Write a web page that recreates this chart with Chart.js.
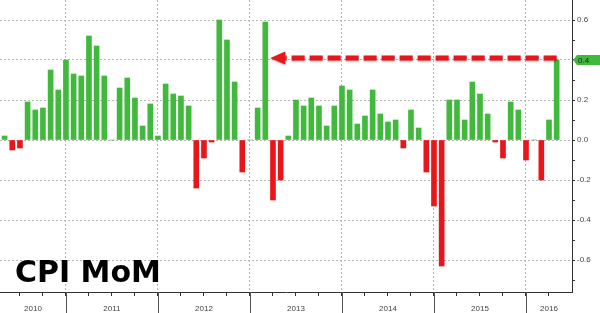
<!DOCTYPE html>
<html>
<head>
<meta charset="utf-8">
<script src="https://cdn.jsdelivr.net/npm/chart.js@4"></script>
<style>
  html, body { margin: 0; padding: 0; background: #fff; }
  #wrap { width: 600px; height: 313px; position: relative; }
</style>
</head>
<body>
<div id="wrap"><canvas id="cpi_mom"></canvas></div>
<script>
// US CPI, month on month %, Apr 2010 - Apr 2016
const months = [
  'Apr 10','May 10','Jun 10','Jul 10','Aug 10','Sep 10','Oct 10','Nov 10','Dec 10',
  'Jan 11','Feb 11','Mar 11','Apr 11','May 11','Jun 11','Jul 11','Aug 11','Sep 11','Oct 11','Nov 11','Dec 11',
  'Jan 12','Feb 12','Mar 12','Apr 12','May 12','Jun 12','Jul 12','Aug 12','Sep 12','Oct 12','Nov 12','Dec 12',
  'Jan 13','Feb 13','Mar 13','Apr 13','May 13','Jun 13','Jul 13','Aug 13','Sep 13','Oct 13','Nov 13','Dec 13',
  'Jan 14','Feb 14','Mar 14','Apr 14','May 14','Jun 14','Jul 14','Aug 14','Sep 14','Oct 14','Nov 14','Dec 14',
  'Jan 15','Feb 15','Mar 15','Apr 15','May 15','Jun 15','Jul 15','Aug 15','Sep 15','Oct 15','Nov 15','Dec 15',
  'Jan 16','Feb 16','Mar 16','Apr 16'
];
const cpiMoM = [
  0.02, -0.05, -0.04, 0.19, 0.15, 0.16, 0.35, 0.25, 0.40,
  0.33, 0.32, 0.52, 0.47, 0.32, 0.00, 0.26, 0.31, 0.21, 0.07, 0.18, 0.02,
  0.28, 0.23, 0.22, 0.17, -0.24, -0.09, -0.01, 0.60, 0.50, 0.29, -0.16, 0.00,
  0.16, 0.59, -0.30, -0.20, 0.02, 0.20, 0.17, 0.21, 0.17, 0.07, 0.17, 0.27,
  0.25, 0.08, 0.12, 0.25, 0.13, 0.09, 0.10, -0.04, 0.15, 0.06, -0.16, -0.33,
  -0.63, 0.20, 0.20, 0.10, 0.29, 0.23, 0.13, -0.01, -0.09, 0.19, 0.15, -0.10,
  0.00, -0.20, 0.10, 0.40
];
const yearLabels = ['2010', '2011', '2012', '2013', '2014', '2015', '2016'];
const yMajorTicks = [-0.6, -0.4, -0.2, 0, 0.2, 0.4, 0.6];
const yMinorTicks = [-0.7, -0.5, -0.3, -0.1, 0.1, 0.3, 0.5];
const chartTitle = 'CPI MoM';
const arrowFrom = 'Apr 16';   // latest print
const arrowTo = 'Feb 13';     // last time it was this high

const GREEN = '#40b93c';
const RED = '#e8161a';
const GRID = '#b4b4b4';
const AXIS = '#333';
const xMin = -0.6, xMax = 74;

// year ends (Dec) are the year separators, quarter ends get a tick
const yearEnds = months.map((m, i) => m.startsWith('Dec') ? i : -1).filter(i => i >= 0);
const quarterEnds = months.map((m, i) => /^(Mar|Jun|Sep|Dec)/.test(m) ? i : -1).filter(i => i >= 0);
const edges = [xMin, ...yearEnds, xMax];
const yearMids = edges.slice(1).map((e, i) => (e + edges[i]) / 2);

const labelFont = { family: '"Liberation Sans", Arial, sans-serif', size: 8 };

const overlay = {
  id: 'overlay',
  afterDraw(chart) {
    const ctx = chart.ctx;
    const xs = chart.scales.x, ys = chart.scales.y;
    const area = chart.chartArea;

    // year separators under the axis
    ctx.save();
    ctx.strokeStyle = '#555';
    ctx.lineWidth = 1;
    yearEnds.forEach(i => {
      const px = Math.round(xs.getPixelForValue(i)) + 0.5;
      ctx.beginPath();
      ctx.moveTo(px, area.bottom);
      ctx.lineTo(px, chart.height);
      ctx.stroke();
    });
    ctx.restore();

    // dashed arrow back to the last comparable print
    const iFrom = months.indexOf(arrowFrom), iTo = months.indexOf(arrowTo);
    const ay = ys.getPixelForValue(cpiMoM[iFrom]) - 2;
    const tip = xs.getPixelForValue(iTo) + 5;
    const start = xs.getPixelForValue(iFrom);
    ctx.save();
    ctx.shadowColor = 'rgba(0,0,0,0.35)';
    ctx.shadowBlur = 2;
    ctx.shadowOffsetY = 1;
    ctx.strokeStyle = RED;
    ctx.fillStyle = RED;
    ctx.lineWidth = 5;
    ctx.setLineDash([13, 5]);
    ctx.beginPath();
    ctx.moveTo(start, ay);
    ctx.lineTo(tip + 15, ay);
    ctx.stroke();
    ctx.setLineDash([]);
    ctx.beginPath();
    ctx.moveTo(tip, ay);
    ctx.lineTo(tip + 15, ay - 6.5);
    ctx.lineTo(tip + 15, ay + 6.5);
    ctx.closePath();
    ctx.fill();
    ctx.restore();

    // last value tag on the axis
    const last = cpiMoM[cpiMoM.length - 1];
    const ty = ys.getPixelForValue(last);
    const tx = area.right + 3;
    ctx.save();
    ctx.fillStyle = GREEN;
    ctx.beginPath();
    ctx.moveTo(tx - 2, ty);
    ctx.lineTo(tx + 2, ty - 5);
    ctx.lineTo(chart.width, ty - 5);
    ctx.lineTo(chart.width, ty + 5);
    ctx.lineTo(tx + 2, ty + 5);
    ctx.closePath();
    ctx.fill();
    ctx.fillStyle = '#222';
    ctx.font = '8px "Liberation Sans", Arial, sans-serif';
    ctx.textBaseline = 'middle';
    ctx.fillText(last.toFixed(1), tx + 3, ty + 0.5);
    ctx.restore();

    // big label bottom left
    ctx.save();
    ctx.fillStyle = '#000';
    ctx.font = 'bold 30px "DejaVu Sans", Verdana, sans-serif';
    ctx.textBaseline = 'alphabetic';
    ctx.fillText(chartTitle, area.left + 15, area.bottom - 10);
    ctx.restore();
  }
};

const config = {
  type: 'bar',
  data: {
    datasets: [{
      label: 'CPI MoM',
      data: cpiMoM.map((v, i) => ({ x: i, y: v })),
      backgroundColor: c => (c.parsed && c.parsed.y < 0) ? RED : GREEN,
      borderWidth: 0,
      barThickness: 5
    }]
  },
  options: {
    responsive: true,
    maintainAspectRatio: false,
    animation: false,
    layout: { padding: 0 },
    plugins: { legend: { display: false }, tooltip: { enabled: false } },
    scales: {
      x: {
        type: 'linear', position: 'bottom', weight: 0,
        min: xMin, max: xMax, offset: false,
        afterBuildTicks: s => { s.ticks = quarterEnds.map(v => ({ value: v })); },
        afterFit: s => { s.height = 4; s.paddingLeft = 0; s.paddingRight = 0; },
        ticks: { display: false },
        grid: {
          offset: false,
          color: c => yearEnds.includes(c.tick && c.tick.value) ? GRID : 'rgba(0,0,0,0)',
          tickColor: AXIS, tickLength: 4
        },
        border: { color: AXIS, dash: [2, 2] }
      },
      xYear: {
        type: 'linear', position: 'bottom', weight: 1,
        min: xMin, max: xMax, offset: false,
        afterBuildTicks: s => { s.ticks = yearMids.map(v => ({ value: v })); },
        afterFit: s => { s.height = 17; s.paddingLeft = 0; s.paddingRight = 0; },
        ticks: {
          callback: (v, i) => yearLabels[i],
          autoSkip: false, maxRotation: 0,
          font: labelFont, color: '#444', padding: 8
        },
        grid: { display: false, drawTicks: false, offset: false },
        border: { display: false }
      },
      y: {
        position: 'right',
        min: -0.76, max: 0.7,
        afterBuildTicks: s => {
          s.ticks = [...yMinorTicks, ...yMajorTicks].sort((a, b) => a - b).map(v => ({ value: v }));
        },
        afterFit: s => { s.width = 28; s.paddingTop = 0; s.paddingBottom = 0; },
        ticks: {
          callback: v => yMajorTicks.some(t => Math.abs(t - v) < 1e-6) ? v.toFixed(1) : '',
          font: labelFont, color: '#444', padding: 2
        },
        grid: {
          color: c => yMajorTicks.some(t => Math.abs(t - c.tick.value) < 1e-6) ? GRID : 'rgba(0,0,0,0)',
          tickColor: AXIS, tickLength: 3
        },
        border: { color: AXIS, dash: [2, 2] }
      }
    }
  },
  plugins: [overlay]
};

const cpiChart = new Chart('cpi_mom', config);
</script>
</body>
</html>
